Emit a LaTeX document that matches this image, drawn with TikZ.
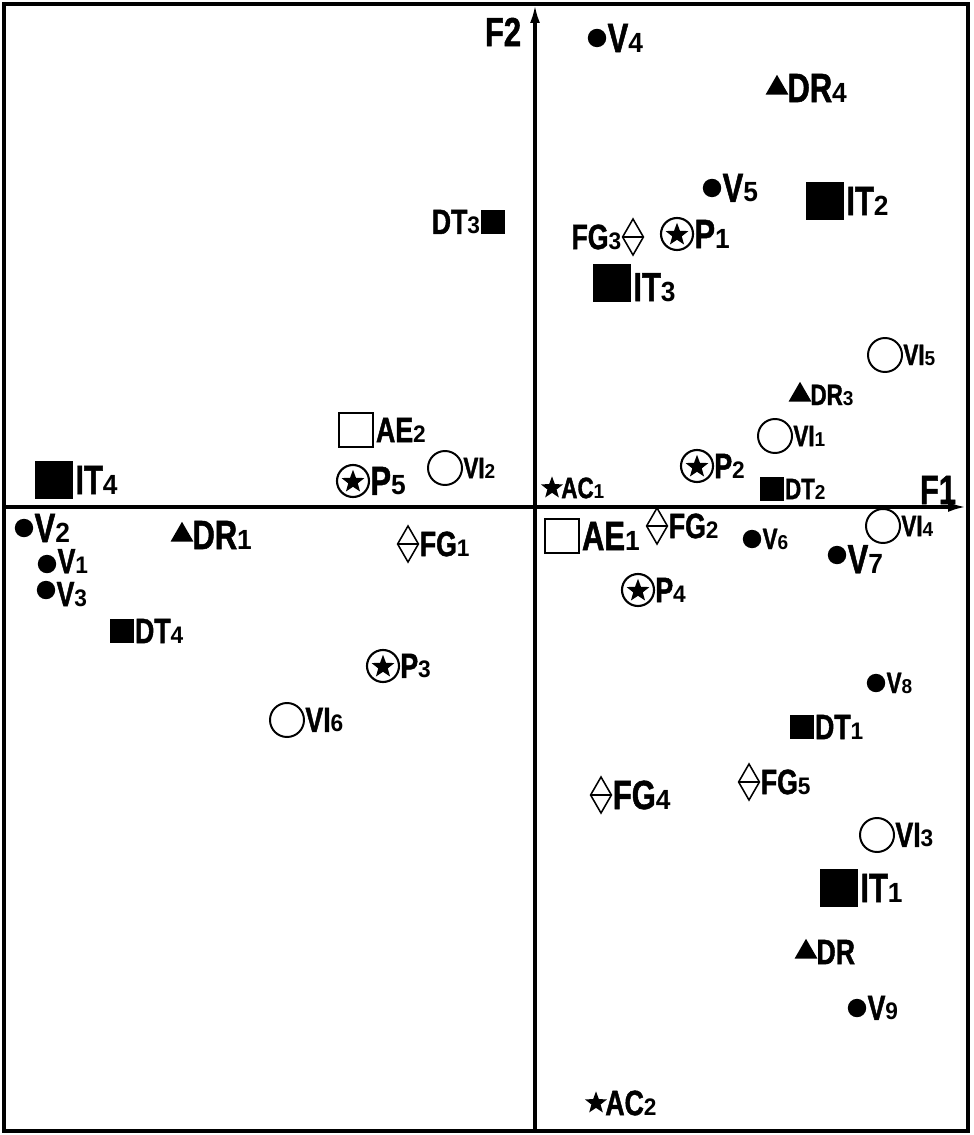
\documentclass[tikz,border=0pt]{standalone}
\usepackage{fontspec}
\newfontfamily\condfont{Liberation Sans}[UprightFont={* Bold}, FakeStretch=0.76, FakeBold=1.2]
\newfontfamily\digfont{Liberation Sans}[UprightFont={* Bold}, FakeStretch=0.95]
\usetikzlibrary{arrows.meta, positioning, shapes.geometric}

\newcommand{\dg}[1]{\scalebox{0.68}{\digfont #1}}

\begin{document}
\begin{tikzpicture}[
  x=0.025cm, y=-0.025cm,
  every node/.style={inner sep=0pt, outer sep=0pt},
  lbig/.style={font=\condfont\fontsize{29}{30}\selectfont},
  lmid/.style={font=\condfont\fontsize{25}{26}\selectfont},
  lsml/.style={font=\condfont\fontsize{21}{22}\selectfont},
  vdot/.style={circle, fill, minimum size=0.46cm},
  drtri/.style={regular polygon, regular polygon sides=3, fill, minimum size=0.66cm},
  itsq/.style={rectangle, fill, minimum size=0.93cm},
  dtsq/.style={rectangle, fill, minimum size=0.58cm},
  aesq/.style={rectangle, draw, line width=1.5pt, minimum size=0.86cm},
  vicirc/.style={circle, draw, line width=1.4pt, minimum size=0.85cm},
  pcirc/.style={circle, draw, line width=1.5pt, minimum size=0.8cm,
    path picture={\node[star, star points=5, star point ratio=2.4, fill, minimum size=0.6cm]
      at ([yshift=-0.02cm]path picture bounding box.center) {};}},
  acstar/.style={star, star points=5, star point ratio=2.4, fill, minimum size=0.58cm},
  fgdia/.style={diamond, draw, line width=1.1pt, minimum width=0.52cm, minimum height=0.9cm,
    path picture={\draw[line width=1.1pt] (path picture bounding box.west) -- (path picture bounding box.east);}},
  axis/.style={line width=2.2pt, -{Latex[length=0.45cm, width=0.25cm]}},
  frame/.style={line width=2.2pt}
]
\useasboundingbox (0,0) rectangle (973,1135);

% Frame and axes
\draw[frame] (4,4) rectangle (968,1131);
\coordinate (f2s) at (535,1131);
\coordinate (f2e) at (535,5);
\coordinate (f1s) at (4,507);
\coordinate (f1e) at (966,507);
\draw[axis] (f2s) -- (f2e);
\draw[axis] (f1s) -- (f1e);
\node[lbig] (f2) at (503,32) {F2};
\node[lbig] (f1) at (938,490) {F1};

% Markers
\node[vdot] (v1) at (47,564) {};
\node[vdot] (v2) at (24,528) {};
\node[vdot] (v3) at (46,590) {};
\node[vdot] (v4) at (597,38) {};
\node[vdot] (v5) at (712,188) {};
\node[vdot] (v6) at (752,539) {};
\node[vdot] (v7) at (837,555) {};
\node[vdot] (v8) at (876,683) {};
\node[vdot] (v9) at (857,1008) {};

\node[drtri] (dr) at (806,952) {};
\node[drtri] (dr1) at (182,535) {};
\node[drtri] (dr3) at (800,395) {};
\node[drtri] (dr4) at (777,88) {};

\node[itsq] (it1) at (839,888) {};
\node[itsq] (it2) at (825,201) {};
\node[itsq] (it3) at (612,283) {};
\node[itsq] (it4) at (54,480) {};

\node[dtsq] (dt1) at (802,727) {};
\node[dtsq] (dt2) at (772,489) {};
\node[dtsq] (dt3) at (493,222) {};
\node[dtsq] (dt4) at (122,631) {};

\node[aesq] (ae1) at (562,536) {};
\node[aesq] (ae2) at (356,430) {};

\node[vicirc] (vi1) at (775,436) {};
\node[vicirc] (vi2) at (445,468) {};
\node[vicirc] (vi3) at (877,835) {};
\node[vicirc] (vi4) at (883,526) {};
\node[vicirc] (vi5) at (885,355) {};
\node[vicirc] (vi6) at (287,720) {};

\node[pcirc] (p1) at (677,234) {};
\node[pcirc] (p2) at (697,466) {};
\node[pcirc] (p3) at (383,666) {};
\node[pcirc] (p4) at (638,590) {};
\node[pcirc] (p5) at (353,481) {};

\node[acstar] (ac1) at (552,488) {};
\node[acstar] (ac2) at (596,1103) {};

\node[fgdia] (fg1) at (408,544) {};
\node[fgdia] (fg2) at (657,526) {};
\node[fgdia] (fg3) at (633,237) {};
\node[fgdia] (fg4) at (601,795) {};
\node[fgdia] (fg5) at (749,782) {};

% Labels
\node[lmid, right=1pt of v1, yshift=2pt] (v1t) {V\dg{1}};
\node[lbig, right=1pt of v2] (v2t) {V\dg{2}};
\node[lmid, right=1pt of v3, yshift=-3pt] (v3t) {V\dg{3}};
\node[lbig, right=1pt of v4] (v4t) {V\dg{4}};
\node[lbig, right=1pt of v5] (v5t) {V\dg{5}};
\node[lsml, right=1pt of v6] (v6t) {V\dg{6}};
\node[lbig, right=1pt of v7, yshift=-3pt] (v7t) {V\dg{7}};
\node[lsml, right=1pt of v8] (v8t) {V\dg{8}};
\node[lmid, right=1pt of v9] (v9t) {V\dg{9}};

\node[lmid, right=2pt of dr] (drt) {DR};
\node[lbig, right=2pt of dr1] (dr1t) {DR\dg{1}};
\node[lsml, right=2pt of dr3] (dr3t) {DR\dg{3}};
\node[lbig, right=2pt of dr4] (dr4t) {DR\dg{4}};

\node[lbig, right=2pt of it1] (it1t) {IT\dg{1}};
\node[lbig, right=2pt of it2] (it2t) {IT\dg{2}};
\node[lbig, right=2pt of it3, yshift=-3pt] (it3t) {IT\dg{3}};
\node[lbig, right=2pt of it4] (it4t) {IT\dg{4}};

\node[lmid, right=1pt of dt1] (dt1t) {DT\dg{1}};
\node[lsml, right=1pt of dt2] (dt2t) {DT\dg{2}};
\node[lmid, left=1pt of dt3] (dt3t) {DT\dg{3}};
\node[lmid, right=1pt of dt4] (dt4t) {DT\dg{4}};

\node[lbig, right=2pt of ae1] (ae1t) {AE\dg{1}};
\node[lmid, right=2pt of ae2] (ae2t) {AE\dg{2}};

\node[lsml, right=1pt of vi1] (vi1t) {VI\dg{1}};
\node[lsml, right=1pt of vi2] (vi2t) {VI\dg{2}};
\node[lmid, right=1pt of vi3] (vi3t) {VI\dg{3}};
\node[lsml, right=1pt of vi4] (vi4t) {VI\dg{4}};
\node[lsml, right=1pt of vi5] (vi5t) {VI\dg{5}};
\node[lmid, right=1pt of vi6] (vi6t) {VI\dg{6}};

\node[lbig, right=1pt of p1] (p1t) {P\dg{1}};
\node[lmid, right=1pt of p2] (p2t) {P\dg{2}};
\node[lmid, right=1pt of p3] (p3t) {P\dg{3}};
\node[lmid, right=1pt of p4] (p4t) {P\dg{4}};
\node[lbig, right=1pt of p5] (p5t) {P\dg{5}};

\node[lsml, right=2pt of ac1] (ac1t) {AC\dg{1}};
\node[lmid, right=2pt of ac2] (ac2t) {AC\dg{2}};

\node[lmid, right=1pt of fg1] (fg1t) {FG\dg{1}};
\node[lmid, right=1pt of fg2] (fg2t) {FG\dg{2}};
\node[lmid, left=1pt of fg3] (fg3t) {FG\dg{3}};
\node[lbig, right=1pt of fg4] (fg4t) {FG\dg{4}};
\node[lmid, right=1pt of fg5] (fg5t) {FG\dg{5}};
\end{tikzpicture}
\end{document}
